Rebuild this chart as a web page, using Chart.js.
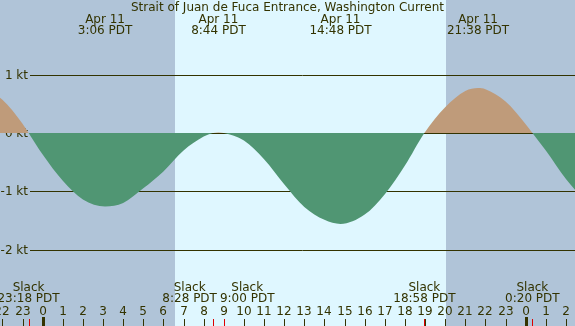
<!DOCTYPE html>
<html>
<head>
<meta charset="utf-8">
<script src="https://cdn.jsdelivr.net/npm/chart.js@4"></script>
<style>
  html, body { margin: 0; padding: 0; background: #b0c4d8; }
  canvas { display: block; }
</style>
</head>
<body>
<canvas id="currentChart" width="575" height="326"></canvas>
<script>
// hours from midnight Apr 11 (negative = Apr 10, >24 = Apr 12), speed in knots (+ flood, - ebb)
const hours  = [-3, -2, -1, -0.7, 0, 1, 2, 3.1, 4, 5, 6, 7, 8, 8.467, 8.733, 9, 10, 11, 12, 13, 14, 14.8, 16, 17, 18, 18.967, 20, 21, 21.633, 22, 23, 24, 24.333, 25, 26, 27];
const speeds = [0.78, 0.57, 0.16, 0, -0.37, -0.82, -1.14, -1.26, -1.20, -0.95, -0.66, -0.30, -0.06, 0, 0.01, 0, -0.13, -0.45, -0.88, -1.27, -1.49, -1.56, -1.40, -1.05, -0.56, 0, 0.44, 0.72, 0.77, 0.75, 0.54, 0.15, 0, -0.30, -0.79, -1.18];

const maxTimes  = [3.1, 8.733, 14.8, 21.633];
const maxLabels = ['3:06 PDT', '8:44 PDT', '14:48 PDT', '21:38 PDT'];
const slackTimes  = [-0.7, 8.467, 9.0, 18.967, 24.333];
const slackLabels = ['23:18 PDT', '8:28 PDT', '9:00 PDT', '18:58 PDT', '0:20 PDT'];
const eventDate = 'Apr 11';
const sunTimes = [6.57, 20.05];   // sunrise, sunset
const ktTicks = [1, 0, -1, -2];
const title = 'Strait of Juan de Fuca Entrance, Washington Current';

const INK = '#333300';
const FONT = "12px 'DejaVu Sans', sans-serif";

const tidePlugin = {
    id: 'tide',
    beforeDraw(chart) {
        const { ctx, chartArea: a, scales: { x } } = chart;
        ctx.save();
        ctx.fillStyle = '#b0c4d8';
        ctx.fillRect(0, 0, chart.width, chart.height);
        const x0 = Math.round(x.getPixelForValue(sunTimes[0]));
        const x1 = Math.round(x.getPixelForValue(sunTimes[1]));
        ctx.fillStyle = '#dff7ff';
        ctx.fillRect(x0, 0, x1 - x0, chart.height);
        ctx.restore();
    },
    beforeDatasetsDraw(chart) {
        const { ctx, chartArea: a, scales: { y } } = chart;
        ctx.save();
        ctx.strokeStyle = INK;
        ctx.lineWidth = 1;
        ctx.font = FONT;
        ctx.fillStyle = INK;
        ctx.textAlign = 'right';
        ctx.textBaseline = 'middle';
        ktTicks.forEach(v => {
            const py = Math.round(y.getPixelForValue(v)) + 0.5;
            ctx.beginPath();
            ctx.moveTo(30, py);
            ctx.lineTo(a.right, py);
            ctx.stroke();
            ctx.fillText(v + ' kt', 28, py);
        });
        ctx.restore();
    },
    afterDraw(chart) {
        const { ctx, scales: { x } } = chart;
        const H = chart.height;
        ctx.save();
        ctx.font = FONT;
        ctx.fillStyle = INK;
        ctx.textBaseline = 'middle';
        ctx.textAlign = 'center';

        // title + max current labels
        ctx.fillText(title, chart.width / 2, 8);
        maxTimes.forEach((t, i) => {
            const px = x.getPixelForValue(t);
            ctx.fillText(eventDate, px, 20);
            ctx.fillText(maxLabels[i], px, 31);
        });

        // slack labels, pushed apart when two are close
        slackTimes.forEach((t, i) => {
            const px = x.getPixelForValue(t);
            const w = ctx.measureText(slackLabels[i]).width;
            let cx = px;
            const next = slackTimes[i + 1], prev = slackTimes[i - 1];
            if (next !== undefined && x.getPixelForValue(next) - px < 60) {
                const mid = (px + x.getPixelForValue(next)) / 2;
                cx = mid - 1.5 - w / 2;
            } else if (prev !== undefined && px - x.getPixelForValue(prev) < 60) {
                const mid = (px + x.getPixelForValue(prev)) / 2;
                cx = mid + 1.5 + w / 2;
            }
            ctx.fillText('Slack', cx, 288);
            ctx.fillText(slackLabels[i], cx, 299);
        });

        // hour ticks
        for (let h = Math.ceil(x.min); h <= x.max; h++) {
            const px = Math.round(x.getPixelForValue(h));
            ctx.fillStyle = INK;
            ctx.fillText(String(((h % 24) + 24) % 24), px, 312);
            if (h % 24 === 0) ctx.fillRect(px - 1, 317, 3, H - 317);
            else ctx.fillRect(px, 319, 1, H - 319);
        }
        ctx.fillStyle = '#dd0000';
        slackTimes.forEach(t => {
            const px = Math.round(x.getPixelForValue(t));
            ctx.fillRect(px, 319, 1, H - 319);
        });
        ctx.restore();
    }
};

new Chart(document.getElementById('currentChart'), {
    type: 'line',
    data: {
        datasets: [{
            data: hours.map((h, i) => ({ x: h, y: speeds[i] })),
            borderColor: 'rgba(0,0,0,0)',
            borderWidth: 0,
            pointRadius: 0,
            cubicInterpolationMode: 'monotone',
            fill: { target: 'origin', above: '#bf9b7a', below: '#509673' }
        }]
    },
    options: {
        responsive: false,
        animation: false,
        layout: { padding: 0 },
        plugins: { legend: { display: false }, tooltip: { enabled: false } },
        scales: {
            x: { type: 'linear', min: -2.12, max: 26.45, display: false },
            y: { min: -3.31, max: 2.28, display: false }
        }
    },
    plugins: [tidePlugin]
});
</script>
</body>
</html>
